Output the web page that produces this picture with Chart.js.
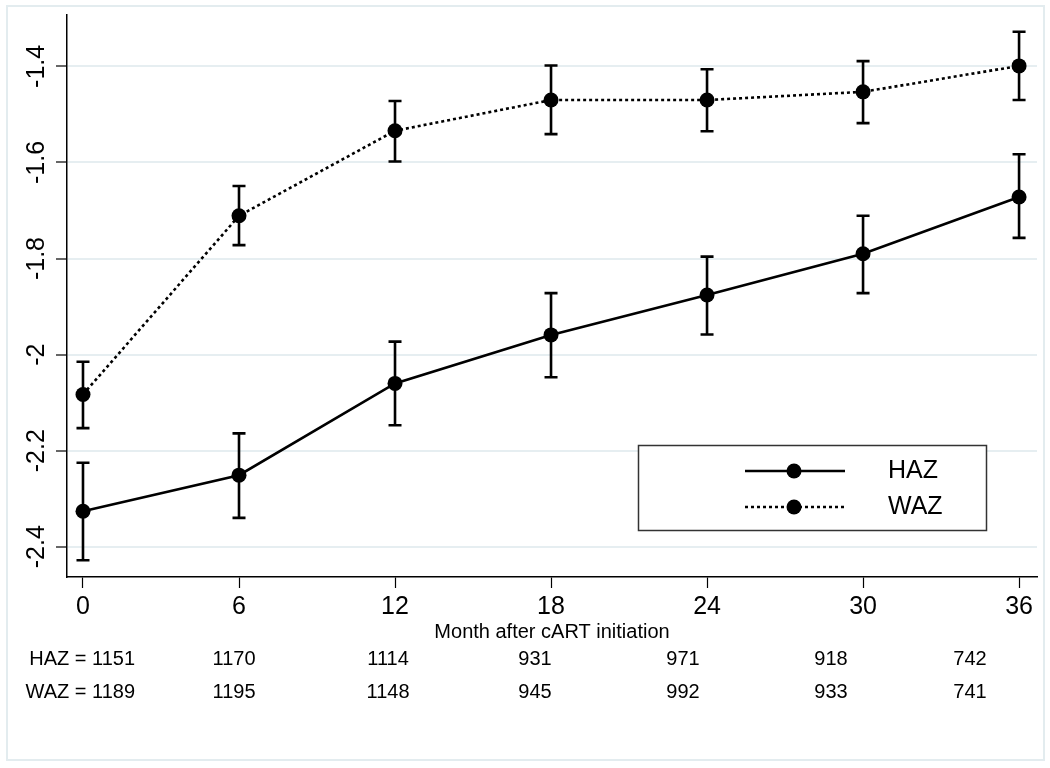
<!DOCTYPE html>
<html>
<head>
<meta charset="utf-8">
<script src="https://cdn.jsdelivr.net/npm/chart.js@4/dist/chart.umd.min.js"></script>
<style>
  body { margin: 0; background: #fff; }
  #wrap { width: 1050px; height: 768px; }
</style>
</head>
<body>
<div id="wrap"><canvas id="grafico" width="1050" height="768"></canvas></div>
<script>
const months = [0, 6, 12, 18, 24, 30, 36];
const hazMean = [-2.326, -2.251, -2.060, -1.959, -1.876, -1.790, -1.672];
const hazLow = [-2.428, -2.340, -2.147, -2.047, -1.958, -1.872, -1.757];
const hazHigh = [-2.225, -2.164, -1.973, -1.872, -1.796, -1.711, -1.583];
const wazMean = [-2.083, -1.711, -1.534, -1.470, -1.470, -1.453, -1.399];
const wazLow = [-2.153, -1.772, -1.598, -1.541, -1.535, -1.518, -1.470];
const wazHigh = [-2.015, -1.649, -1.472, -1.398, -1.406, -1.389, -1.328];
const hazN = [1151, 1170, 1114, 931, 971, 918, 742];
const wazN = [1189, 1195, 1148, 945, 992, 933, 741];
const yTicks = [-2.4, -2.2, -2, -1.8, -1.6, -1.4];
const yTickLabels = ["-2.4", "-2.2", "-2", "-1.8", "-1.6", "-1.4"];
const xTitle = "Month after cART initiation";

const FONT = "'Liberation Sans', Arial, sans-serif";

// centres of the count columns under the axis
const countX = [null, 234, 388, 535, 683, 831, 970];

const extras = {
  id: "extras",
  beforeDraw(chart) {
    const c = chart.ctx;
    c.save();
    c.fillStyle = "#fff";
    c.fillRect(0, 0, chart.width, chart.height);
    c.strokeStyle = "#e3ecef";
    c.lineWidth = 2;
    c.strokeRect(7, 6, 1037, 754);
    c.restore();
  },
  beforeDatasetsDraw(chart) {
    const c = chart.ctx;
    const x = chart.scales.x, y = chart.scales.y;
    c.save();
    c.strokeStyle = "#000";
    c.lineWidth = 2.6;
    [[hazLow, hazHigh], [wazLow, wazHigh]].forEach(([lo, hi]) => {
      months.forEach((m, i) => {
        const px = x.getPixelForValue(m);
        const y1 = y.getPixelForValue(lo[i]);
        const y2 = y.getPixelForValue(hi[i]);
        c.beginPath();
        c.moveTo(px, y1); c.lineTo(px, y2);
        c.moveTo(px - 6.5, y1); c.lineTo(px + 6.5, y1);
        c.moveTo(px - 6.5, y2); c.lineTo(px + 6.5, y2);
        c.stroke();
      });
    });
    c.restore();
  },
  afterDraw(chart) {
    const c = chart.ctx;
    const x = chart.scales.x, y = chart.scales.y;
    c.save();
    c.fillStyle = "#000";

    // y tick labels, rotated
    c.font = "25px " + FONT;
    c.textAlign = "center";
    c.textBaseline = "middle";
    yTicks.forEach((v, i) => {
      c.save();
      c.translate(37, y.getPixelForValue(v));
      c.rotate(-Math.PI / 2);
      c.fillText(yTickLabels[i], 0, 0);
      c.restore();
    });

    // x tick labels
    months.forEach((m) => {
      c.fillText(String(m), x.getPixelForValue(m), 607);
    });

    // axis title
    c.font = "20px " + FONT;
    c.fillText(xTitle, (chart.chartArea.left + chart.chartArea.right) / 2, 632);

    // counts
    c.textAlign = "right";
    c.fillText("HAZ = " + hazN[0], 135, 659);
    c.fillText("WAZ = " + wazN[0], 135, 692);
    c.textAlign = "center";
    for (let i = 1; i < months.length; i++) {
      c.fillText(String(hazN[i]), countX[i], 659);
      c.fillText(String(wazN[i]), countX[i], 692);
    }

    // legend
    c.fillStyle = "#fff";
    c.fillRect(638, 445, 349, 86);
    c.strokeStyle = "#333";
    c.lineWidth = 1.5;
    c.strokeRect(638.5, 445.5, 348, 85);
    [[471, []], [507, [3, 3]]].forEach(([ly, dash]) => {
      c.strokeStyle = "#000";
      c.lineWidth = 2.5;
      c.setLineDash(dash);
      c.beginPath();
      c.moveTo(745, ly); c.lineTo(845, ly);
      c.stroke();
      c.setLineDash([]);
      c.fillStyle = "#000";
      c.beginPath();
      c.arc(794, ly, 7.5, 0, Math.PI * 2);
      c.fill();
    });
    c.font = "25px " + FONT;
    c.textAlign = "left";
    c.fillText("HAZ", 888, 471);
    c.fillText("WAZ", 888, 507);
    c.restore();
  },
};

const ctx = document.getElementById("grafico");

new Chart(ctx, {
  type: "line",
  data: {
    datasets: [
      {
        label: "HAZ",
        data: months.map((m, i) => ({ x: m, y: hazMean[i] })),
        borderColor: "#000",
        borderWidth: 2.6,
        pointRadius: 7.5,
        pointBackgroundColor: "#000",
        pointBorderWidth: 0,
        tension: 0,
      },
      {
        label: "WAZ",
        data: months.map((m, i) => ({ x: m, y: wazMean[i] })),
        borderColor: "#000",
        borderWidth: 2.6,
        borderDash: [3, 3],
        pointRadius: 7.5,
        pointBackgroundColor: "#000",
        pointBorderWidth: 0,
        tension: 0,
      },
    ],
  },
  options: {
    responsive: false,
    animation: false,
    devicePixelRatio: 1,
    layout: { padding: { left: 7, right: 13, top: 15, bottom: 0 } },
    plugins: { legend: { display: false }, tooltip: { enabled: false } },
    scales: {
      x: {
        type: "linear",
        min: -0.615,
        max: 36.69,
        afterBuildTicks: (s) => { s.ticks = months.map((v) => ({ value: v })); },
        afterFit: (s) => { s.height = 191; },
        ticks: { display: false },
        grid: { drawOnChartArea: false, drawTicks: true, tickLength: 11, tickColor: "#000", tickWidth: 1.2 },
        border: { color: "#000", width: 1.5 },
      },
      y: {
        type: "linear",
        min: -2.463,
        max: -1.293,
        afterBuildTicks: (s) => { s.ticks = yTicks.map((v) => ({ value: v })); },
        afterFit: (s) => { s.width = 60; },
        ticks: { display: false },
        grid: { color: "#e6eef1", lineWidth: 2, drawTicks: true, tickLength: 11, tickColor: "#000", tickWidth: 1.2 },
        border: { color: "#000", width: 1.5 },
      },
    },
  },
  plugins: [extras],
});
</script>
</body>
</html>
